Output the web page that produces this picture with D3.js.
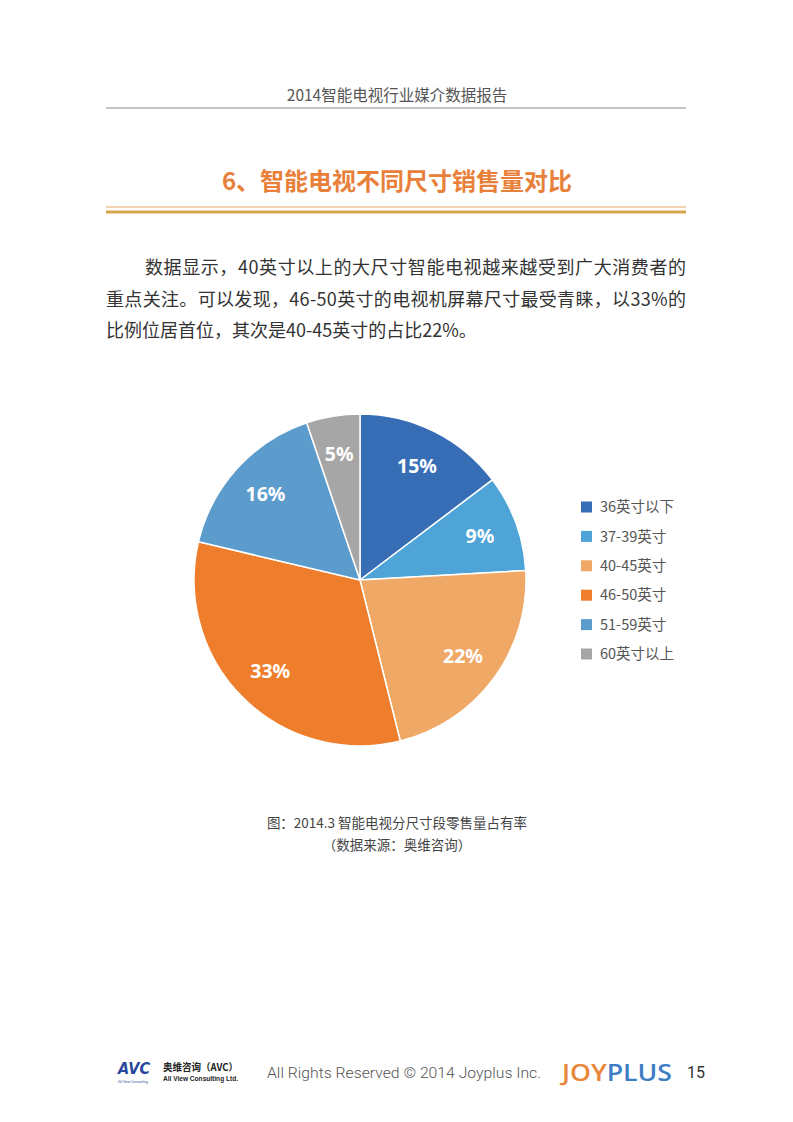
<!DOCTYPE html>
<html>
<head>
<meta charset="utf-8">
<script src="https://cdn.jsdelivr.net/npm/d3@7"></script>
<style>
    body { margin: 0; background: #fff; }
    svg { display: block; font-family: "Noto Sans CJK SC", "Noto Sans", sans-serif; }
</style>
</head>
<body>
<div id="page"></div>
<script>
const categories = ['36英寸以下', '37-39英寸', '40-45英寸', '46-50英寸', '51-59英寸', '60英寸以上'];
const shares = [14.7, 9.4, 22.0, 32.6, 16.1, 5.2];
const sliceColors = ['#376DB5', '#4EA4D7', '#F0A867', '#EE7E2C', '#5C9CCD', '#A6A6A6'];

const headerText = '2014智能电视行业媒介数据报告';
const titleText = '6、智能电视不同尺寸销售量对比';
const paragraphLines = [
    '数据显示，40英寸以上的大尺寸智能电视越来越受到广大消费者的',
    '重点关注。可以发现，46-50英寸的电视机屏幕尺寸最受青睐，以33%的',
    '比例位居首位，其次是40-45英寸的占比22%。'
];
const captionLines = ['图：2014.3 智能电视分尺寸段零售量占有率', '（数据来源：奥维咨询）'];

const width = 793,
    height = 1122;

const svg = d3.select('#page').append('svg')
    .attr('width', width)
    .attr('height', height);

// page header
svg.append('text')
    .attr('x', 397)
    .attr('y', 101)
    .attr('text-anchor', 'middle')
    .style('font-size', '15.5px')
    .style('fill', '#555')
    .text(headerText);

svg.append('line')
    .attr('x1', 106).attr('x2', 686)
    .attr('y1', 108).attr('y2', 108)
    .attr('stroke', '#8a8a8a')
    .attr('stroke-width', 1);

// section title
svg.append('text')
    .attr('x', 397)
    .attr('y', 190)
    .attr('text-anchor', 'middle')
    .style('font-size', '24px')
    .style('font-weight', 'bold')
    .style('fill', '#E8803A')
    .text(titleText);

svg.append('line')
    .attr('x1', 106).attr('x2', 686)
    .attr('y1', 207).attr('y2', 207)
    .attr('stroke', '#F3D3B0')
    .attr('stroke-width', 2);

svg.append('line')
    .attr('x1', 106).attr('x2', 686)
    .attr('y1', 212).attr('y2', 212)
    .attr('stroke', '#D7A64C')
    .attr('stroke-width', 3);

// paragraph
const para = svg.append('g')
    .style('font-size', '18px')
    .style('fill', '#333');

para.selectAll('text')
    .data(paragraphLines)
    .enter()
    .append('text')
    .attr('x', (d, i) => i === 0 ? 145 : 106)
    .attr('y', (d, i) => 274 + i * 31.5)
    .attr('textLength', (d, i) => i === 0 ? 541 : (i === 1 ? 580 : null))
    .attr('lengthAdjust', 'spacing')
    .text(d => d);

// pie
const cx = 360,
    cy = 580,
    radius = 166;

const pie = d3.pie().sort(null).value(d => d);
const arc = d3.arc().innerRadius(0).outerRadius(radius);
const labelArc = d3.arc().innerRadius(radius * 0.77).outerRadius(radius * 0.77);
const color = d3.scaleOrdinal().domain(categories).range(sliceColors);

const pieG = svg.append('g')
    .attr('transform', 'translate(' + cx + ',' + cy + ')');

const arcs = pie(shares);

pieG.selectAll('path')
    .data(arcs)
    .enter()
    .append('path')
    .attr('d', arc)
    .attr('fill', (d, i) => color(categories[i]))
    .attr('stroke', '#fff')
    .attr('stroke-width', 1.5);

pieG.selectAll('.slice-label')
    .data(arcs)
    .enter()
    .append('text')
    .attr('class', 'slice-label')
    .attr('transform', d => 'translate(' + labelArc.centroid(d) + ')')
    .attr('text-anchor', 'middle')
    .attr('dy', '0.36em')
    .style('font-family', '"Noto Sans", "Open Sans", sans-serif')
    .style('font-size', '19.5px')
    .style('font-weight', 'bold')
    .style('fill', '#fff')
    .text(d => Math.round(d.value) + '%');

// legend
const legend = svg.append('g')
    .attr('transform', 'translate(581,507)');

const rows = legend.selectAll('g')
    .data(categories)
    .enter()
    .append('g')
    .attr('transform', (d, i) => 'translate(0,' + (i * 29.4) + ')');

rows.append('rect')
    .attr('x', 0)
    .attr('y', -5.5)
    .attr('width', 11)
    .attr('height', 11)
    .attr('fill', d => color(d));

rows.append('text')
    .attr('x', 19)
    .attr('y', 0)
    .attr('dy', '0.36em')
    .style('font-size', '14.5px')
    .style('fill', '#555')
    .text(d => d);

// caption
svg.append('g')
    .selectAll('text')
    .data(captionLines)
    .enter()
    .append('text')
    .attr('x', 397)
    .attr('y', (d, i) => 828 + i * 22)
    .attr('text-anchor', 'middle')
    .style('font-size', '13.5px')
    .style('fill', '#444')
    .text(d => d);

// footer
const footer = svg.append('g');

footer.append('text')
    .attr('x', 118)
    .attr('y', 1074)
    .attr('textLength', 32)
    .attr('lengthAdjust', 'spacingAndGlyphs')
    .style('font-family', '"DejaVu Sans", sans-serif')
    .style('font-size', '16px')
    .style('font-weight', 'bold')
    .style('font-style', 'italic')
    .style('fill', '#27479A')
    .text('AVC');

footer.append('text')
    .attr('x', 118)
    .attr('y', 1083)
    .attr('textLength', 30)
    .attr('lengthAdjust', 'spacingAndGlyphs')
    .style('font-size', '3.5px')
    .style('fill', '#27479A')
    .text('All View Consulting');

footer.append('text')
    .attr('x', 163)
    .attr('y', 1071)
    .attr('textLength', 75)
    .attr('lengthAdjust', 'spacingAndGlyphs')
    .style('font-size', '10px')
    .style('font-weight', 'bold')
    .style('fill', '#222')
    .text('奥维咨询（AVC）');

footer.append('text')
    .attr('x', 163)
    .attr('y', 1081)
    .attr('textLength', 75)
    .attr('lengthAdjust', 'spacingAndGlyphs')
    .style('font-family', '"Liberation Sans", sans-serif')
    .style('font-size', '7.5px')
    .style('font-weight', 'bold')
    .style('fill', '#222')
    .text('All View Consulting Ltd.');

footer.append('text')
    .attr('x', 267)
    .attr('y', 1078)
    .attr('textLength', 274)
    .attr('lengthAdjust', 'spacingAndGlyphs')
    .style('font-family', '"Roboto", sans-serif')
    .style('font-size', '15px')
    .style('font-weight', 300)
    .style('fill', '#555')
    .text('All Rights Reserved  ©  2014 Joyplus Inc.');

const logo = footer.append('text')
    .attr('x', 562)
    .attr('y', 1081)
    .attr('textLength', 110)
    .attr('lengthAdjust', 'spacingAndGlyphs')
    .style('font-family', '"Open Sans", sans-serif')
    .style('font-size', '23px')
    .style('font-weight', 600);

logo.append('tspan').style('fill', '#E8873A').text('JOY');
logo.append('tspan').style('fill', '#3C7DC4').text('PLUS');

footer.append('text')
    .attr('x', 687)
    .attr('y', 1078)
    .style('font-family', '"Roboto", sans-serif')
    .style('font-size', '16px')
    .style('fill', '#333')
    .text('15');
</script>
</body>
</html>
